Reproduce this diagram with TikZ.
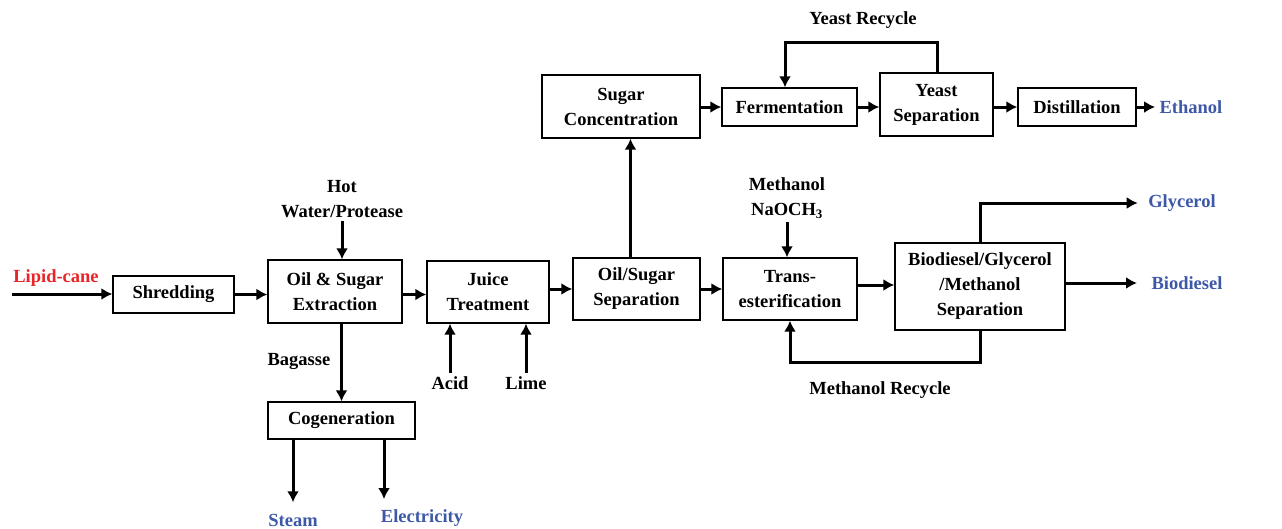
\documentclass[tikz,border=0pt]{standalone}
\usepackage{fontspec}
\setmainfont{Liberation Serif}
\usepackage{tikz}
\usetikzlibrary{positioning,arrows.meta}
\definecolor{feedred}{RGB}{232,36,40}
\definecolor{prodblue}{RGB}{62,88,168}

\begin{document}
\begin{tikzpicture}[x=1pt,y=-1pt,
  every node/.style={font=\fontsize{18.5}{25}\selectfont\bfseries,align=center},
  unit/.style={draw,line width=1.3pt,inner sep=0pt},
  prod/.style={text=prodblue},
  flow/.style={line width=3pt,-{Latex[length=11pt,width=12pt]}}]
  \useasboundingbox (0,0) rectangle (1282,528);
  % process units
  \node[unit,minimum width=121pt,minimum height=37pt] (shred) at (173.5,294.5) {Shredding};
  \node[unit,minimum width=134pt,minimum height=63pt] (extr) at (335,291.5) {Oil \& Sugar\\Extraction};
  \node[unit,minimum width=122pt,minimum height=62pt] (juice) at (488,292) {Juice\\Treatment};
  \node[unit,minimum width=127pt,minimum height=62pt] (oilsep) at (636.5,289) {Oil/Sugar\\Separation};
  \node[unit,minimum width=158pt,minimum height=63pt] (sugar) at (621,106.5) {Sugar\\Concentration};
  \node[unit,minimum width=135pt,minimum height=38pt] (ferm) at (789.5,107) {Fermentation};
  \node[unit,minimum width=113pt,minimum height=63pt] (ysep) at (936.5,104.5) {Yeast\\Separation};
  \node[unit,minimum width=118pt,minimum height=38pt] (dist) at (1077,107) {Distillation};
  \node[unit,minimum width=134pt,minimum height=62pt] (trans) at (790,289) {Trans-\\esterification};
  \node[unit,minimum width=170pt,minimum height=87pt] (bgm) at (980,286.5) {Biodiesel/Glycerol\\/Methanol\\Separation};
  \node[unit,minimum width=147pt,minimum height=37pt] (cogen) at (341.5,420.5) {Cogeneration};
  % inputs and outputs
  \node[text=feedred] (cane) at (56,278) {Lipid-cane};
  \coordinate (feed) at (12,294);
  \node (hot) at (342,199) {Hot\\Water/Protease};
  \node (bag) at (299,361) {Bagasse};
  \node (acid) at (450,383) {Acid};
  \node (lime) at (526,383) {Lime};
  \node (meoh) at (787,198) {Methanol\\NaOCH\textsubscript{3}};
  \node[prod] (steam) at (293,520) {Steam};
  \node[prod] (elec) at (422,518) {Electricity};
  \node[prod] (eth) at (1191,107) {Ethanol};
  \node[prod] (glyc) at (1182,203) {Glycerol};
  \node[prod] (biod) at (1187,283) {Biodiesel};
  \node (yrec) at (863,20) {Yeast Recycle};
  \node (mrec) at (880,390) {Methanol Recycle};
  \coordinate (ytop) at (785,42);
  \coordinate (mbot) at (790,362);
  % main line
  \draw[flow] (feed) -- (feed -| shred.west);
  \draw[flow] (shred.east) -- (shred.east -| extr.west);
  \draw[flow] (extr.east |- shred.east) -- (shred.east -| juice.west);
  \draw[flow] (juice.east |- oilsep) -- (oilsep.west);
  \draw[flow] (oilsep.east) -- (oilsep.east -| trans.west);
  \draw[flow] (trans.east |- 0,285) -- (bgm.west |- 0,285);
  \draw[flow] ([xshift=-6pt]oilsep.north) -- ([xshift=-6pt]oilsep.north |- sugar.south);
  \draw[flow] (sugar.east |- ferm) -- (ferm.west);
  \draw[flow] (ferm.east) -- (ferm.east -| ysep.west);
  \draw[flow] (ysep.east |- dist) -- (dist.west);
  \draw[flow,shorten >=1pt] (dist.east) -- (eth.west);
  % side streams
  \draw[flow] (hot.south) -- (hot.south |- extr.north);
  \draw[flow] (extr.south -| cogen.north) -- (cogen.north);
  \draw[flow,shorten >=8pt] (steam.north |- cogen.south) -- (steam.north);
  \draw[flow,shorten >=7pt] ([xshift=42.5pt]cogen.south) -- ([xshift=42.5pt]cogen.south |- elec.north);
  \draw[flow] (acid.north) -- (acid.north |- juice.south);
  \draw[flow] (lime.north) -- (lime.north |- juice.south);
  \draw[flow] (meoh.south) -- (meoh.south |- trans.north);
  \draw[flow,shorten >=7pt] (bgm.north) |- (glyc.west);
  \draw[flow,shorten >=11pt] (bgm.east |- biod.west) -- (biod.west);
  % recycles
  \draw[flow] ([xshift=0.5pt]ysep.north) |- (ytop) -- (ytop |- ferm.north);
  \draw[flow] (bgm.south) |- (mbot) -- (mbot |- trans.south);
\end{tikzpicture}
\end{document}
